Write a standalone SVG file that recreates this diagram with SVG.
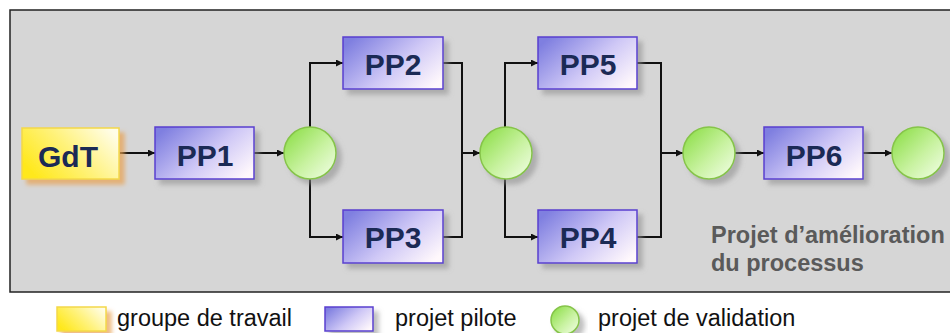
<svg xmlns="http://www.w3.org/2000/svg" width="950" height="333" viewBox="0 0 950 333">
<defs>
<linearGradient id="gPP" x1="0" y1="0.2" x2="1" y2="0.8">
<stop offset="0" stop-color="#7f7fe0"/>
<stop offset="0.55" stop-color="#cfc8f6"/>
<stop offset="1" stop-color="#fff8fc"/>
</linearGradient>
<linearGradient id="gY" x1="0" y1="0.7" x2="1" y2="0.2">
<stop offset="0" stop-color="#ffe81a"/>
<stop offset="0.5" stop-color="#fff27a"/>
<stop offset="1" stop-color="#fffde8"/>
</linearGradient>
<linearGradient id="gG" x1="0" y1="0" x2="1" y2="1">
<stop offset="0" stop-color="#86dc3e"/>
<stop offset="0.55" stop-color="#c8f2a0"/>
<stop offset="1" stop-color="#f4ffea"/>
</linearGradient>
<filter id="sh" x="-20%" y="-20%" width="150%" height="160%">
<feDropShadow dx="5" dy="5" stdDeviation="2.5" flood-color="#8a8a8a" flood-opacity="0.55"/>
</filter>
<filter id="shY" x="-20%" y="-20%" width="150%" height="160%">
<feDropShadow dx="5" dy="5" stdDeviation="2" flood-color="#e8a050" flood-opacity="0.7"/>
</filter>
<marker id="ah" viewBox="0 0 10 10" refX="10" refY="5" markerWidth="9" markerHeight="7" markerUnits="userSpaceOnUse" orient="auto">
<path d="M0,0 L10,5 L0,10 z" fill="#111"/>
</marker>
<style>
.pp{fill:url(#gPP);stroke:#5a3fd0;stroke-width:1.5;filter:url(#sh)}
.gdt{fill:url(#gY);stroke:#f4d84a;stroke-width:1.5;filter:url(#shY)}
.val{fill:url(#gG);stroke:#86c44a;stroke-width:1.5;filter:url(#sh)}
.lbl{font-family:"Liberation Sans",Arial,sans-serif;font-weight:bold;font-size:30px;fill:#1b2a55;text-anchor:middle}
.con{fill:none;stroke:#111;stroke-width:2}
.leg{font-family:"Liberation Sans",Arial,sans-serif;font-size:23.5px;fill:#111}
.note{font-family:"Liberation Sans",Arial,sans-serif;font-weight:bold;font-size:23.5px;fill:#5a5a5a}
</style>
</defs>
<rect x="0" y="0" width="950" height="333" fill="#ffffff"/>
<rect x="10" y="10" width="950" height="282" fill="#d6d6d6" stroke="#222" stroke-width="1.5"/>

<g id="connectors">
<path class="con" d="M120,153 H155" marker-end="url(#ah)"/>
<path class="con" d="M254,153 H284" marker-end="url(#ah)"/>
<path class="con" d="M310,127 V63 H343" marker-end="url(#ah)"/>
<path class="con" d="M310,179 V237 H343" marker-end="url(#ah)"/>
<path class="con" d="M443,63 H462 V237 H443"/>
<path class="con" d="M462,153 H480" marker-end="url(#ah)"/>
<path class="con" d="M505,127 V63 H538" marker-end="url(#ah)"/>
<path class="con" d="M505,179 V237 H538" marker-end="url(#ah)"/>
<path class="con" d="M637,63 H661 V237 H637"/>
<path class="con" d="M661,153 H683" marker-end="url(#ah)"/>
<path class="con" d="M735,153 H764" marker-end="url(#ah)"/>
<path class="con" d="M863,153 H892" marker-end="url(#ah)"/>
</g>

<g id="GdT"><rect class="gdt" x="22" y="128" width="97" height="51"/><text class="lbl" x="68" y="167">GdT</text></g>
<g id="PP1"><rect class="pp" x="155" y="127" width="99" height="52"/><text class="lbl" x="205" y="166">PP1</text></g>
<g id="V1"><circle class="val" cx="310" cy="153" r="26"/></g>
<g id="PP2"><rect class="pp" x="343" y="37" width="100" height="52"/><text class="lbl" x="393" y="75">PP2</text></g>
<g id="PP3"><rect class="pp" x="343" y="210" width="100" height="53"/><text class="lbl" x="393" y="248">PP3</text></g>
<g id="V2"><circle class="val" cx="506" cy="153" r="26"/></g>
<g id="PP5"><rect class="pp" x="538" y="37" width="99" height="52"/><text class="lbl" x="588" y="75">PP5</text></g>
<g id="PP4"><rect class="pp" x="538" y="210" width="99" height="53"/><text class="lbl" x="588" y="248">PP4</text></g>
<g id="V3"><circle class="val" cx="709" cy="153" r="26"/></g>
<g id="PP6"><rect class="pp" x="764" y="127" width="99" height="52"/><text class="lbl" x="814" y="166">PP6</text></g>
<g id="V4"><circle class="val" cx="918" cy="153" r="26"/></g>

<g id="note">
<text class="note" x="711" y="243">Projet d’amélioration</text>
<text class="note" x="711" y="271">du processus</text>
</g>

<g id="legend">
<rect class="gdt" x="57" y="307" width="49" height="24" stroke="none"/>
<text class="leg" x="117" y="326">groupe de travail</text>
<rect class="pp" x="325" y="307" width="48" height="24" stroke-width="1"/>
<text class="leg" x="395" y="326">projet pilote</text>
<circle class="val" cx="565" cy="320" r="14" stroke-width="1"/>
<text class="leg" x="598" y="326">projet de validation</text>
</g>
</svg>
